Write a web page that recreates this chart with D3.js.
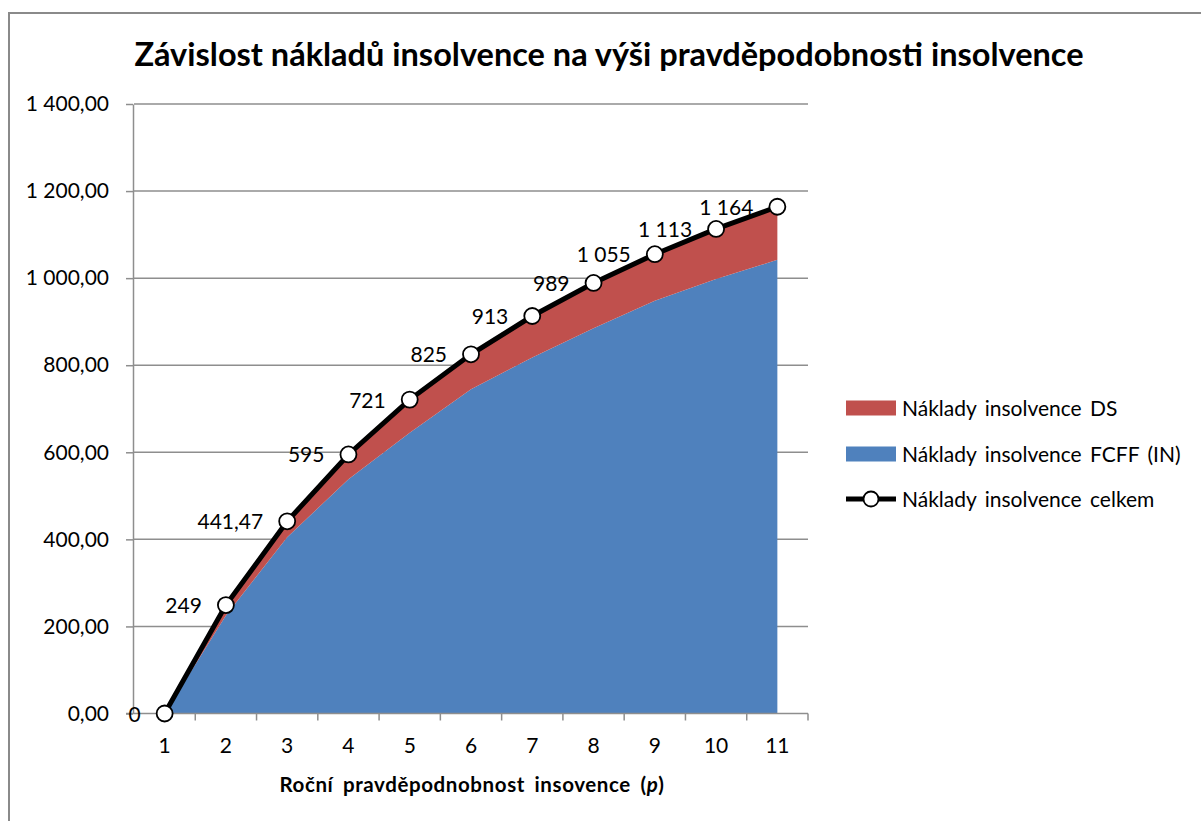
<!DOCTYPE html>
<html>
<head>
<meta charset="utf-8">
<script src="https://cdn.jsdelivr.net/npm/d3@7"></script>
<style>
  body { margin: 0; background: #fff; }
  svg { display: block; font-family: Lato, "Open Sans", sans-serif; }
</style>
</head>
<body>
<div id="chart"></div>
<script>
// Data
const categories = ['1', '2', '3', '4', '5', '6', '7', '8', '9', '10', '11'];
const totalCosts = [0, 249, 441.47, 595, 721, 825, 913, 989, 1055, 1113, 1164]; // Náklady insolvence celkem
const fcffCosts = [0, 225, 405, 538, 645, 745, 818, 885, 948, 998, 1042]; // Náklady insolvence FCFF (IN)
const yTicks = [0, 200, 400, 600, 800, 1000, 1200, 1400];

const titleText = 'Závislost nákladů insolvence na výši pravděpodobnosti insolvence';
const legendNames = ['Náklady insolvence DS', 'Náklady insolvence FCFF (IN)', 'Náklady insolvence celkem'];

const blue = '#4f81bd';
const red = '#c0504d';
const grid = '#8e8e8e';

// DS part is what sits between FCFF and the total
const rows = categories.map((c, i) => ({
	cat: c,
	fcff: fcffCosts[i],
	ds: totalCosts[i] - fcffCosts[i],
	total: totalCosts[i],
}));

const cz = d3.formatLocale({ decimal: ',', thousands: '\u00a0', grouping: [3], currency: ['', ''] });
const fmtAxis = cz.format(',.2f');
const fmtLabel = (v) => (Number.isInteger(v) ? cz.format(',d')(v) : cz.format(',.2f')(v));

const svg = d3.select('#chart').append('svg').attr('width', 1201).attr('height', 821);

// chart frame
svg
	.append('rect')
	.attr('x', 9)
	.attr('y', 13)
	.attr('width', 1220)
	.attr('height', 840)
	.attr('fill', '#fff')
	.attr('stroke', '#8a8a8a')
	.attr('stroke-width', 2);

// Scales
const x = d3.scaleBand().domain(categories).range([134, 808]);
const cx = (d) => x(d) + x.bandwidth() / 2;

const y = d3.scaleLinear().domain([0, 1400]).range([713.5, 104]);

// Gridlines
svg
	.append('g')
	.selectAll('line')
	.data(yTicks.slice(1))
	.enter()
	.append('line')
	.attr('x1', 134)
	.attr('x2', 808)
	.attr('y1', (d) => y(d))
	.attr('y2', (d) => y(d))
	.attr('stroke', grid)
	.attr('stroke-width', 1.5);

// Stacked areas
const stack = d3.stack().keys(['fcff', 'ds']);
const stacked = stack(rows);

const area = d3
	.area()
	.x((d) => cx(d.data.cat))
	.y0((d) => y(d[0]))
	.y1((d) => y(d[1]));

svg
	.append('g')
	.selectAll('path')
	.data(stacked)
	.enter()
	.append('path')
	.attr('d', area)
	.attr('fill', (d, i) => [blue, red][i]);

// Y axis
const yAxis = svg
	.append('g')
	.attr('transform', 'translate(133,0)')
	.call(d3.axisLeft(y).tickValues(yTicks).tickFormat(fmtAxis).tickSize(7).tickSizeOuter(0).tickPadding(17));
yAxis.select('.domain').attr('stroke', grid).attr('stroke-width', 1.5);
yAxis.selectAll('.tick line').attr('stroke', grid).attr('stroke-width', 1.5);
yAxis.selectAll('.tick text').attr('font-size', 21).attr('fill', '#000').attr('font-family', 'Lato, sans-serif');

// X axis: labels at category centres, tick marks between categories
const xAxis = svg
	.append('g')
	.attr('transform', `translate(0,${y(0)})`)
	.call(d3.axisBottom(x).tickSize(0).tickPadding(25));
xAxis.select('.domain').remove();
xAxis.selectAll('.tick text').attr('font-size', 21).attr('fill', '#000').attr('font-family', 'Lato, sans-serif');

svg
	.append('line')
	.attr('x1', 126)
	.attr('x2', 808)
	.attr('y1', y(0))
	.attr('y2', y(0))
	.attr('stroke', grid)
	.attr('stroke-width', 1.5);

svg
	.append('g')
	.selectAll('line')
	.data(categories)
	.enter()
	.append('line')
	.attr('x1', (d) => x(d) + x.bandwidth())
	.attr('x2', (d) => x(d) + x.bandwidth())
	.attr('y1', y(0))
	.attr('y2', y(0) + 7)
	.attr('stroke', grid)
	.attr('stroke-width', 1.5);

// Total line with markers
const line = d3
	.line()
	.x((d) => cx(d.cat))
	.y((d) => y(d.total));

svg.append('path').datum(rows).attr('d', line).attr('fill', 'none').attr('stroke', '#000').attr('stroke-width', 5);

svg
	.append('g')
	.selectAll('circle')
	.data(rows)
	.enter()
	.append('circle')
	.attr('cx', (d) => cx(d.cat))
	.attr('cy', (d) => y(d.total))
	.attr('r', 8)
	.attr('fill', '#fff')
	.attr('stroke', '#000')
	.attr('stroke-width', 1.8);

// Data labels (left of each point)
svg
	.append('g')
	.selectAll('text')
	.data(rows)
	.enter()
	.append('text')
	.attr('x', (d) => cx(d.cat) - 24)
	.attr('y', (d) => y(d.total) + 8)
	.attr('text-anchor', 'end')
	.attr('font-size', 21)
	.text((d) => fmtLabel(d.total));

// Title
svg
	.append('text')
	.attr('x', 609)
	.attr('y', 66)
	.attr('text-anchor', 'middle')
	.attr('font-size', 32.5)
	.attr('font-weight', 'bold')
	.text(titleText);

// X axis title
const xTitle = svg
	.append('text')
	.attr('x', 472)
	.attr('y', 792)
	.attr('text-anchor', 'middle')
	.attr('font-size', 20.5)
	.attr('font-weight', 'bold')
	.attr('word-spacing', 4)
	.attr('letter-spacing', 0.6);
xTitle.append('tspan').text('Roční pravděpodnobnost insovence (');
xTitle.append('tspan').attr('font-style', 'italic').text('p');
xTitle.append('tspan').text(')');

// Legend
const legend = svg.append('g').attr('transform', 'translate(846,0)');
const legendY = [408, 454, 499];

legend
	.selectAll('rect')
	.data([red, blue])
	.enter()
	.append('rect')
	.attr('x', 0)
	.attr('y', (d, i) => legendY[i] - 7.5)
	.attr('width', 50)
	.attr('height', 15)
	.attr('fill', (d) => d);

legend.append('line').attr('x1', 0).attr('x2', 50).attr('y1', legendY[2]).attr('y2', legendY[2]).attr('stroke', '#000').attr('stroke-width', 5);
legend
	.append('circle')
	.attr('cx', 25)
	.attr('cy', legendY[2])
	.attr('r', 7.5)
	.attr('fill', '#fff')
	.attr('stroke', '#000')
	.attr('stroke-width', 1.8);

legend
	.selectAll('text')
	.data(legendNames)
	.enter()
	.append('text')
	.attr('x', 56)
	.attr('y', (d, i) => legendY[i] + 7.5)
	.attr('font-size', 21)
	.attr('word-spacing', 3)
	.text((d) => d);
</script>
</body>
</html>
